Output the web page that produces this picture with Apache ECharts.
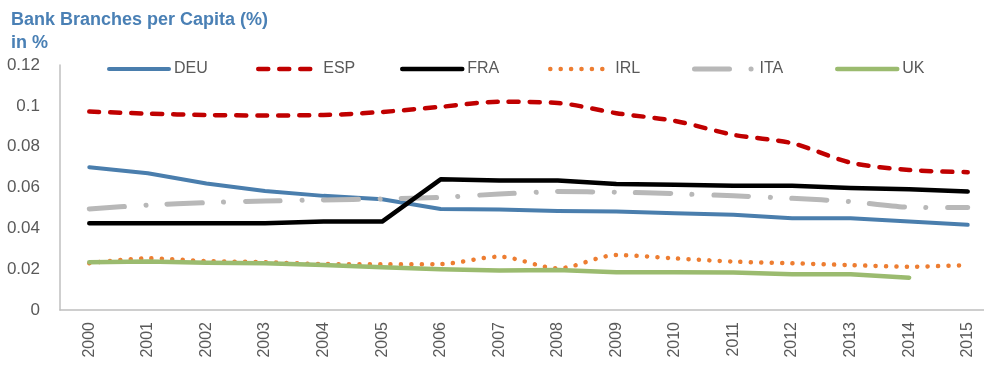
<!DOCTYPE html>
<html>
<head>
<meta charset="utf-8">
<script src="https://cdn.jsdelivr.net/npm/echarts@6/dist/echarts.min.js"></script>
<style>
  html, body { margin: 0; padding: 0; background: #fff; }
  #chart { width: 984px; height: 368px; }
</style>
</head>
<body>
<div id="chart"></div>
<script>
// Years on the category axis
const years = ['2000','2001','2002','2003','2004','2005','2006','2007','2008','2009','2010','2011','2012','2013','2014','2015'];

// Bank branches per capita, in %
const DEU = [0.0699, 0.0670, 0.0620, 0.0583, 0.0559, 0.0542, 0.0495, 0.0492, 0.0485, 0.0482, 0.0474, 0.0466, 0.0449, 0.0449, 0.0433, 0.0417];
const ESP = [0.0972, 0.0962, 0.0955, 0.0953, 0.0955, 0.0970, 0.0995, 0.1020, 0.1014, 0.0964, 0.0926, 0.0858, 0.0817, 0.0722, 0.0686, 0.0675];
const FRA = [0.0425, 0.0425, 0.0425, 0.0425, 0.0433, 0.0433, 0.0640, 0.0634, 0.0634, 0.0617, 0.0614, 0.0608, 0.0608, 0.0598, 0.0591, 0.0580];
const IRL = [0.0229, 0.0253, 0.0240, 0.0234, 0.0225, 0.0224, 0.0225, 0.0261, 0.0204, 0.0269, 0.0253, 0.0237, 0.0229, 0.0220, 0.0212, 0.0220];
const ITA = [0.0495, 0.0514, 0.0526, 0.0534, 0.0539, 0.0544, 0.0552, 0.0568, 0.0580, 0.0577, 0.0570, 0.0559, 0.0547, 0.0531, 0.0503, 0.0502];
const UK  = [0.0234, 0.0237, 0.0232, 0.0229, 0.0220, 0.0209, 0.0199, 0.0193, 0.0196, 0.0185, 0.0185, 0.0184, 0.0175, 0.0175, 0.0158, null];

// Y axis range
const yMin = 0, yMax = 0.12, yStep = 0.02;

const seriesNames = ['DEU', 'ESP', 'FRA', 'IRL', 'ITA', 'UK'];
const seriesData  = [DEU, ESP, FRA, IRL, ITA, UK];

// Line appearance per series
const styles = {
  DEU: { color: '#4a7ead', width: 4,   type: 'solid', smooth: false },
  ESP: { color: '#c00000', width: 4.5, type: [10, 11], smooth: 0.3 },
  FRA: { color: '#000000', width: 4.5, type: 'solid', smooth: false },
  IRL: { color: '#ed7d31', width: 4.5, type: [0.1, 10.3], smooth: 0.3 },
  ITA: { color: '#b8b8b8', width: 5,   type: [35, 21.5, 0.1, 21.5], smooth: 0.2 },
  UK:  { color: '#9bbb6f', width: 4.5, type: 'solid', smooth: false }
};

// Legend entry positions
const legendLeft = [107, 256, 400, 548, 692, 835];

const textColor = '#595959';
const fontFamily = '"Liberation Sans", Arial, sans-serif';

const chart = echarts.init(document.getElementById('chart'), null, { renderer: 'canvas' });

chart.setOption({
  animation: false,
  backgroundColor: '#ffffff',
  title: {
    text: 'Bank Branches per Capita (%)\nin %',
    left: 6,
    top: 4,
    textStyle: {
      color: '#4a80b5',
      fontFamily: fontFamily,
      fontWeight: 'bold',
      fontSize: 18,
      lineHeight: 23
    }
  },
  legend: seriesNames.map((n, i) => ({
    data: [n],
    left: legendLeft[i],
    top: 61,
    padding: 0,
    itemWidth: 60,
    itemHeight: 14,
    itemGap: 0,
    itemStyle: { opacity: 0 },
    lineStyle: { width: styles[n].width, cap: 'round' },
    textStyle: { color: textColor, fontSize: 16, fontFamily: fontFamily }
  })),
  grid: { left: 60, right: -13, top: 65, bottom: 58, containLabel: false, outerBoundsMode: 'none' },
  xAxis: {
    type: 'category',
    data: years,
    boundaryGap: true,
    axisLine: { lineStyle: { color: '#bfbfbf', width: 1.5 } },
    axisTick: { show: false },
    axisLabel: { rotate: 90, color: textColor, fontSize: 16, fontFamily: fontFamily, margin: 12 }
  },
  yAxis: {
    type: 'value',
    min: yMin,
    max: yMax,
    interval: yStep,
    axisLine: { show: true, lineStyle: { color: '#bfbfbf', width: 1.5 } },
    axisTick: { show: false },
    splitLine: { show: false },
    axisLabel: { color: textColor, fontSize: 17, fontFamily: fontFamily, margin: 20 }
  },
  series: seriesNames.map((n, i) => ({
    name: n,
    type: 'line',
    data: seriesData[i],
    symbol: 'none',
    smooth: styles[n].smooth,
    connectNulls: false,
    z: n === 'FRA' ? 3 : 2,
    itemStyle: { color: styles[n].color },
    lineStyle: {
      color: styles[n].color,
      width: styles[n].width,
      type: styles[n].type,
      cap: 'round',
      join: 'round'
    }
  }))
});
</script>
</body>
</html>
